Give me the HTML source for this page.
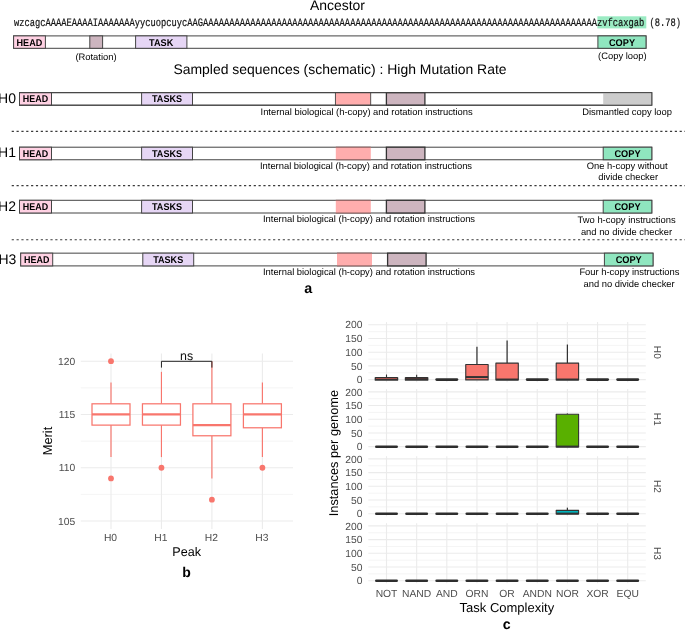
<!DOCTYPE html>
<html><head><meta charset="utf-8"><title>Figure</title>
<style>
html,body{margin:0;padding:0;background:#fff;}
body{width:685px;height:630px;overflow:hidden;font-family:"Liberation Sans",sans-serif;}
svg{display:block;}
svg text{font-family:"Liberation Sans",sans-serif;text-rendering:geometricPrecision;}
</style></head>
<body>
<div style="will-change:transform;width:685px;height:630px">
<svg width="685" height="630" viewBox="0 0 685 630">
<rect x="0" y="0" width="685" height="630" fill="#ffffff"/>
<text x="337.5" y="9.6" font-size="13.95" text-anchor="middle" font-weight="normal" fill="#000" >Ancestor</text>
<rect x="597.40" y="16.30" width="48.90" height="12.10" fill="#9BEBC3" stroke="none" stroke-width="1" />
<text x="14.0" y="25.5" stroke="#111" stroke-width="0.2" style="font-family:'Liberation Mono',monospace" font-size="11.4" textLength="667.0" lengthAdjust="spacingAndGlyphs" fill="#111">wzcagcAAAAEAAAAIAAAAAAAyycuopcuycAAGAAAAAAAAAAAAAAAAAAAAAAAAAAAAAAAAAAAAAAAAAAAAAAAAAAAAAAAAAAAAAAAAAAAAAAAAAAAzvfcaxgab (8.78)</text>
<rect x="13.60" y="35.90" width="632.40" height="12.40" fill="#fff" stroke="#444" stroke-width="1" />
<rect x="13.60" y="35.90" width="31.80" height="12.40" fill="#FFD1E3" stroke="#444" stroke-width="1" />
<rect x="89.80" y="35.90" width="12.80" height="12.40" fill="#CDB5BF" stroke="#444" stroke-width="1" />
<rect x="135.60" y="35.90" width="51.30" height="12.40" fill="#E6D6F5" stroke="#444" stroke-width="1" />
<rect x="597.90" y="35.90" width="48.10" height="12.40" fill="#8FE6BF" stroke="#444" stroke-width="1" />
<text x="16.55" y="45.9" font-size="9.8" font-weight="bold" textLength="25.7" lengthAdjust="spacingAndGlyphs" fill="#000">HEAD</text>
<text x="149.10" y="45.9" font-size="9.8" font-weight="bold" textLength="24.2" lengthAdjust="spacingAndGlyphs" fill="#000">TASK</text>
<text x="608.95" y="45.9" font-size="9.8" font-weight="bold" textLength="26.1" lengthAdjust="spacingAndGlyphs" fill="#000">COPY</text>
<text x="96" y="59.5" font-size="9.38" text-anchor="middle" font-weight="normal" fill="#000" >(Rotation)</text>
<text x="622.3" y="58.7" font-size="9.38" text-anchor="middle" font-weight="normal" fill="#000" >(Copy loop)</text>
<text x="340" y="73.9" font-size="13.95" text-anchor="middle" font-weight="normal" fill="#000" >Sampled sequences (schematic) : High Mutation Rate</text>
<text x="16.0" y="103.4" font-size="14" text-anchor="end" font-weight="normal" fill="#000" >H0</text>
<rect x="19.50" y="92.65" width="632.30" height="12.55" fill="#fff" stroke="#444" stroke-width="1" />
<rect x="19.50" y="92.65" width="32.00" height="12.55" fill="#FFD1E3" stroke="#444" stroke-width="1" />
<rect x="141.60" y="92.65" width="50.90" height="12.55" fill="#E6D6F5" stroke="#444" stroke-width="1" />
<rect x="335.40" y="92.65" width="35.30" height="12.55" fill="#FFADAD" stroke="#444" stroke-width="0.9" />
<rect x="386.40" y="92.65" width="38.50" height="12.55" fill="#CDB5BF" stroke="#333" stroke-width="1.3" />
<rect x="603.20" y="92.65" width="48.60" height="12.55" fill="#CCCCCC" stroke="none" stroke-width="1" />
<rect x="19.50" y="92.65" width="632.30" height="12.55" fill="none" stroke="#444" stroke-width="1" />
<text x="22.85" y="102.25" font-size="9.8" font-weight="bold" textLength="25.3" lengthAdjust="spacingAndGlyphs" fill="#000">HEAD</text>
<text x="152.00" y="102.25" font-size="9.8" font-weight="bold" textLength="30.0" lengthAdjust="spacingAndGlyphs" fill="#000">TASKS</text>
<text x="366.6" y="114.60000000000001" font-size="9.38" text-anchor="middle" font-weight="normal" fill="#000" >Internal biological (h-copy) and rotation instructions</text>
<text x="16.0" y="157.4" font-size="14" text-anchor="end" font-weight="normal" fill="#000" >H1</text>
<rect x="19.50" y="147.20" width="632.30" height="12.55" fill="#fff" stroke="#444" stroke-width="1" />
<rect x="19.50" y="147.20" width="32.00" height="12.55" fill="#FFD1E3" stroke="#444" stroke-width="1" />
<rect x="141.60" y="147.20" width="50.90" height="12.55" fill="#E6D6F5" stroke="#444" stroke-width="1" />
<rect x="335.80" y="147.20" width="35.00" height="12.55" fill="#FFADAD" stroke="none" stroke-width="1" />
<line x1="335.80" y1="147.20" x2="370.80" y2="147.20" stroke="#8a5c5c" stroke-width="1" />
<line x1="335.80" y1="159.75" x2="370.80" y2="159.75" stroke="#8a5c5c" stroke-width="1" />
<rect x="386.40" y="147.20" width="38.50" height="12.55" fill="#CDB5BF" stroke="#333" stroke-width="1.3" />
<rect x="603.20" y="147.20" width="48.60" height="12.55" fill="#8FE6BF" stroke="#444" stroke-width="1" />
<text x="614.45" y="156.8" font-size="9.8" font-weight="bold" textLength="26.1" lengthAdjust="spacingAndGlyphs" fill="#000">COPY</text>
<text x="22.85" y="156.8" font-size="9.8" font-weight="bold" textLength="25.3" lengthAdjust="spacingAndGlyphs" fill="#000">HEAD</text>
<text x="152.00" y="156.8" font-size="9.8" font-weight="bold" textLength="30.0" lengthAdjust="spacingAndGlyphs" fill="#000">TASKS</text>
<text x="366.0" y="169.15" font-size="9.38" text-anchor="middle" font-weight="normal" fill="#000" >Internal biological (h-copy) and rotation instructions</text>
<text x="16.0" y="210.6" font-size="14" text-anchor="end" font-weight="normal" fill="#000" >H2</text>
<rect x="19.50" y="200.30" width="632.30" height="12.70" fill="#fff" stroke="#444" stroke-width="1" />
<rect x="19.50" y="200.30" width="32.00" height="12.70" fill="#FFD1E3" stroke="#444" stroke-width="1" />
<rect x="141.60" y="200.30" width="50.90" height="12.70" fill="#E6D6F5" stroke="#444" stroke-width="1" />
<rect x="335.80" y="200.30" width="35.00" height="12.70" fill="#FFADAD" stroke="none" stroke-width="1" />
<line x1="335.80" y1="200.30" x2="370.80" y2="200.30" stroke="#8a5c5c" stroke-width="1" />
<line x1="335.80" y1="213.00" x2="370.80" y2="213.00" stroke="#8a5c5c" stroke-width="1" />
<rect x="386.40" y="200.30" width="38.50" height="12.70" fill="#CDB5BF" stroke="#333" stroke-width="1.3" />
<rect x="603.20" y="200.30" width="48.60" height="12.70" fill="#8FE6BF" stroke="#444" stroke-width="1" />
<text x="614.45" y="210.05" font-size="9.8" font-weight="bold" textLength="26.1" lengthAdjust="spacingAndGlyphs" fill="#000">COPY</text>
<text x="22.85" y="210.05" font-size="9.8" font-weight="bold" textLength="25.3" lengthAdjust="spacingAndGlyphs" fill="#000">HEAD</text>
<text x="152.00" y="210.05" font-size="9.8" font-weight="bold" textLength="30.0" lengthAdjust="spacingAndGlyphs" fill="#000">TASKS</text>
<text x="369.0" y="222.4" font-size="9.38" text-anchor="middle" font-weight="normal" fill="#000" >Internal biological (h-copy) and rotation instructions</text>
<text x="16.36" y="263.8" font-size="14" text-anchor="end" font-weight="normal" fill="#000" >H3</text>
<rect x="20.70" y="253.15" width="632.30" height="12.75" fill="#fff" stroke="#444" stroke-width="1" />
<rect x="20.70" y="253.15" width="32.00" height="12.75" fill="#FFD1E3" stroke="#444" stroke-width="1" />
<rect x="142.80" y="253.15" width="50.90" height="12.75" fill="#E6D6F5" stroke="#444" stroke-width="1" />
<rect x="337.00" y="253.15" width="35.00" height="12.75" fill="#FFADAD" stroke="none" stroke-width="1" />
<line x1="337.00" y1="253.15" x2="372.00" y2="253.15" stroke="#8a5c5c" stroke-width="1" />
<line x1="337.00" y1="265.90" x2="372.00" y2="265.90" stroke="#8a5c5c" stroke-width="1" />
<rect x="387.60" y="253.15" width="38.50" height="12.75" fill="#CDB5BF" stroke="#333" stroke-width="1.3" />
<rect x="604.40" y="253.15" width="48.60" height="12.75" fill="#8FE6BF" stroke="#444" stroke-width="1" />
<text x="615.65" y="262.95" font-size="9.8" font-weight="bold" textLength="26.1" lengthAdjust="spacingAndGlyphs" fill="#000">COPY</text>
<text x="24.05" y="262.95" font-size="9.8" font-weight="bold" textLength="25.3" lengthAdjust="spacingAndGlyphs" fill="#000">HEAD</text>
<text x="153.20" y="262.95" font-size="9.8" font-weight="bold" textLength="30.0" lengthAdjust="spacingAndGlyphs" fill="#000">TASKS</text>
<text x="369.0" y="275.29999999999995" font-size="9.38" text-anchor="middle" font-weight="normal" fill="#000" >Internal biological (h-copy) and rotation instructions</text>
<text x="627.1" y="115.0" font-size="9.38" text-anchor="middle" font-weight="normal" fill="#000" >Dismantled copy loop</text>
<text x="627.2" y="168.8" font-size="9.38" text-anchor="middle" font-weight="normal" fill="#000" >One h-copy without</text>
<text x="628.2" y="180.4" font-size="9.38" text-anchor="middle" font-weight="normal" fill="#000" >divide checker</text>
<text x="626.6" y="222.9" font-size="9.38" text-anchor="middle" font-weight="normal" fill="#000" >Two h-copy instructions</text>
<text x="626.5" y="234.7" font-size="9.38" text-anchor="middle" font-weight="normal" fill="#000" >and no divide checker</text>
<text x="629.4" y="275.4" font-size="9.38" text-anchor="middle" font-weight="normal" fill="#000" >Four h-copy instructions</text>
<text x="629.1" y="286.9" font-size="9.38" text-anchor="middle" font-weight="normal" fill="#000" >and no divide checker</text>
<line x1="11.70" y1="131.40" x2="685.00" y2="131.40" stroke="#3a3a3a" stroke-width="1.15" stroke-dasharray="2.2 2.64"/>
<line x1="11.70" y1="185.60" x2="685.00" y2="185.60" stroke="#3a3a3a" stroke-width="1.15" stroke-dasharray="2.2 2.64"/>
<line x1="11.70" y1="239.70" x2="685.00" y2="239.70" stroke="#3a3a3a" stroke-width="1.15" stroke-dasharray="2.2 2.64"/>
<text x="308.3" y="293.0" font-size="14.3" text-anchor="middle" font-weight="bold" fill="#000" >a</text>
<line x1="80.80" y1="494.36" x2="293.00" y2="494.36" stroke="#EBEBEB" stroke-width="0.55" />
<line x1="80.80" y1="441.10" x2="293.00" y2="441.10" stroke="#EBEBEB" stroke-width="0.55" />
<line x1="80.80" y1="387.83" x2="293.00" y2="387.83" stroke="#EBEBEB" stroke-width="0.55" />
<line x1="80.80" y1="521.00" x2="293.00" y2="521.00" stroke="#EBEBEB" stroke-width="1.1" />
<text x="75.2" y="524.595" font-size="10.3" text-anchor="end" font-weight="normal" fill="#4D4D4D" >105</text>
<line x1="80.80" y1="467.73" x2="293.00" y2="467.73" stroke="#EBEBEB" stroke-width="1.1" />
<text x="75.2" y="471.33000000000004" font-size="10.3" text-anchor="end" font-weight="normal" fill="#4D4D4D" >110</text>
<line x1="80.80" y1="414.46" x2="293.00" y2="414.46" stroke="#EBEBEB" stroke-width="1.1" />
<text x="75.2" y="418.065" font-size="10.3" text-anchor="end" font-weight="normal" fill="#4D4D4D" >115</text>
<line x1="80.80" y1="361.20" x2="293.00" y2="361.20" stroke="#EBEBEB" stroke-width="1.1" />
<text x="75.2" y="364.8" font-size="10.3" text-anchor="end" font-weight="normal" fill="#4D4D4D" >120</text>
<line x1="111.00" y1="353.60" x2="111.00" y2="529.00" stroke="#EBEBEB" stroke-width="1.1" />
<text x="110.5" y="540.9" font-size="10.3" text-anchor="middle" font-weight="normal" fill="#4D4D4D" >H0</text>
<line x1="161.45" y1="353.60" x2="161.45" y2="529.00" stroke="#EBEBEB" stroke-width="1.1" />
<text x="160.95" y="540.9" font-size="10.3" text-anchor="middle" font-weight="normal" fill="#4D4D4D" >H1</text>
<line x1="211.90" y1="353.60" x2="211.90" y2="529.00" stroke="#EBEBEB" stroke-width="1.1" />
<text x="211.4" y="540.9" font-size="10.3" text-anchor="middle" font-weight="normal" fill="#4D4D4D" >H2</text>
<line x1="262.40" y1="353.60" x2="262.40" y2="529.00" stroke="#EBEBEB" stroke-width="1.1" />
<text x="261.9" y="540.9" font-size="10.3" text-anchor="middle" font-weight="normal" fill="#4D4D4D" >H3</text>
<line x1="111.00" y1="382.51" x2="111.00" y2="403.81" stroke="#F8766D" stroke-width="1.15" />
<line x1="111.00" y1="425.12" x2="111.00" y2="457.08" stroke="#F8766D" stroke-width="1.15" />
<rect x="92.00" y="403.81" width="38.00" height="21.31" fill="#fff" stroke="#F8766D" stroke-width="1.25" />
<line x1="92.00" y1="414.46" x2="130.00" y2="414.46" stroke="#F8766D" stroke-width="2.3" />
<circle cx="111.0" cy="361.20" r="2.9" fill="#F8766D"/>
<circle cx="111.0" cy="478.38" r="2.9" fill="#F8766D"/>
<line x1="161.45" y1="371.85" x2="161.45" y2="403.81" stroke="#F8766D" stroke-width="1.15" />
<line x1="161.45" y1="425.12" x2="161.45" y2="457.08" stroke="#F8766D" stroke-width="1.15" />
<rect x="142.45" y="403.81" width="38.00" height="21.31" fill="#fff" stroke="#F8766D" stroke-width="1.25" />
<line x1="142.45" y1="414.46" x2="180.45" y2="414.46" stroke="#F8766D" stroke-width="2.3" />
<circle cx="161.45" cy="467.73" r="2.9" fill="#F8766D"/>
<line x1="211.90" y1="361.20" x2="211.90" y2="403.81" stroke="#F8766D" stroke-width="1.15" />
<line x1="211.90" y1="435.77" x2="211.90" y2="478.38" stroke="#F8766D" stroke-width="1.15" />
<rect x="192.90" y="403.81" width="38.00" height="31.96" fill="#fff" stroke="#F8766D" stroke-width="1.25" />
<line x1="192.90" y1="425.12" x2="230.90" y2="425.12" stroke="#F8766D" stroke-width="2.3" />
<circle cx="211.9" cy="499.69" r="2.9" fill="#F8766D"/>
<line x1="262.40" y1="382.51" x2="262.40" y2="403.81" stroke="#F8766D" stroke-width="1.15" />
<line x1="262.40" y1="427.78" x2="262.40" y2="457.08" stroke="#F8766D" stroke-width="1.15" />
<rect x="243.40" y="403.81" width="38.00" height="23.97" fill="#fff" stroke="#F8766D" stroke-width="1.25" />
<line x1="243.40" y1="414.46" x2="281.40" y2="414.46" stroke="#F8766D" stroke-width="2.3" />
<circle cx="262.4" cy="467.73" r="2.9" fill="#F8766D"/>
<path d="M161.45 367.6 V361.3 H211.9 V367.6" fill="none" stroke="#222" stroke-width="1"/>
<text x="186.6" y="359.6" font-size="12.4" text-anchor="middle" font-weight="normal" fill="#111" >ns</text>
<text transform="translate(52.0,441) rotate(-90)" font-size="12.9" text-anchor="middle" fill="#000">Merit</text>
<text x="186.6" y="556" font-size="12.6" text-anchor="middle" font-weight="normal" fill="#000" >Peak</text>
<text x="186.6" y="577.0" font-size="14.0" text-anchor="middle" font-weight="bold" fill="#000" >b</text>
<line x1="368.30" y1="372.75" x2="645.80" y2="372.75" stroke="#EBEBEB" stroke-width="0.55" />
<line x1="368.30" y1="359.05" x2="645.80" y2="359.05" stroke="#EBEBEB" stroke-width="0.55" />
<line x1="368.30" y1="345.35" x2="645.80" y2="345.35" stroke="#EBEBEB" stroke-width="0.55" />
<line x1="368.30" y1="331.65" x2="645.80" y2="331.65" stroke="#EBEBEB" stroke-width="0.55" />
<line x1="368.30" y1="379.60" x2="645.80" y2="379.60" stroke="#EBEBEB" stroke-width="1.1" />
<text x="362.4" y="383.25" font-size="10.3" text-anchor="end" font-weight="normal" fill="#4D4D4D" >0</text>
<line x1="368.30" y1="365.90" x2="645.80" y2="365.90" stroke="#EBEBEB" stroke-width="1.1" />
<text x="362.4" y="369.55" font-size="10.3" text-anchor="end" font-weight="normal" fill="#4D4D4D" >50</text>
<line x1="368.30" y1="352.20" x2="645.80" y2="352.20" stroke="#EBEBEB" stroke-width="1.1" />
<text x="362.4" y="355.85" font-size="10.3" text-anchor="end" font-weight="normal" fill="#4D4D4D" >100</text>
<line x1="368.30" y1="338.50" x2="645.80" y2="338.50" stroke="#EBEBEB" stroke-width="1.1" />
<text x="362.4" y="342.15" font-size="10.3" text-anchor="end" font-weight="normal" fill="#4D4D4D" >150</text>
<line x1="368.30" y1="324.80" x2="645.80" y2="324.80" stroke="#EBEBEB" stroke-width="1.1" />
<text x="362.4" y="328.45" font-size="10.3" text-anchor="end" font-weight="normal" fill="#4D4D4D" >200</text>
<line x1="386.50" y1="322.06" x2="386.50" y2="382.20" stroke="#EBEBEB" stroke-width="1.1" />
<line x1="416.65" y1="322.06" x2="416.65" y2="382.20" stroke="#EBEBEB" stroke-width="1.1" />
<line x1="446.80" y1="322.06" x2="446.80" y2="382.20" stroke="#EBEBEB" stroke-width="1.1" />
<line x1="476.95" y1="322.06" x2="476.95" y2="382.20" stroke="#EBEBEB" stroke-width="1.1" />
<line x1="507.10" y1="322.06" x2="507.10" y2="382.20" stroke="#EBEBEB" stroke-width="1.1" />
<line x1="537.25" y1="322.06" x2="537.25" y2="382.20" stroke="#EBEBEB" stroke-width="1.1" />
<line x1="567.40" y1="322.06" x2="567.40" y2="382.20" stroke="#EBEBEB" stroke-width="1.1" />
<line x1="597.55" y1="322.06" x2="597.55" y2="382.20" stroke="#EBEBEB" stroke-width="1.1" />
<line x1="627.70" y1="322.06" x2="627.70" y2="382.20" stroke="#EBEBEB" stroke-width="1.1" />
<line x1="386.50" y1="374.50" x2="386.50" y2="377.50" stroke="#333" stroke-width="1.1" />
<rect x="374.65" y="376.90" width="23.60" height="3.95" fill="#333" stroke="none" stroke-width="1" rx="0.9"/>
<rect x="375.90" y="378.30" width="21.10" height="0.70" fill="#D45F56" stroke="none" stroke-width="1" />
<line x1="416.65" y1="374.80" x2="416.65" y2="377.50" stroke="#333" stroke-width="1.1" />
<rect x="404.80" y="376.90" width="23.60" height="3.95" fill="#333" stroke="none" stroke-width="1" rx="0.9"/>
<rect x="406.05" y="378.30" width="21.10" height="0.70" fill="#553634" stroke="none" stroke-width="1" />
<line x1="436.60" y1="379.60" x2="457.00" y2="379.60" stroke="#2e2e2e" stroke-width="2.55" stroke-linecap="round"/>
<line x1="476.95" y1="346.72" x2="476.95" y2="364.53" stroke="#333" stroke-width="1.25" />
<rect x="465.75" y="364.53" width="22.40" height="15.37" fill="#F8766D" stroke="#333" stroke-width="1.1" stroke-linejoin="round"/>
<line x1="465.75" y1="377.06" x2="488.15" y2="377.06" stroke="#333" stroke-width="2.0" />
<line x1="507.10" y1="340.42" x2="507.10" y2="363.16" stroke="#333" stroke-width="1.25" />
<rect x="495.90" y="363.16" width="22.40" height="16.74" fill="#F8766D" stroke="#333" stroke-width="1.1" stroke-linejoin="round"/>
<line x1="495.90" y1="379.53" x2="518.30" y2="379.53" stroke="#333" stroke-width="2.0" />
<line x1="527.05" y1="379.60" x2="547.45" y2="379.60" stroke="#2e2e2e" stroke-width="2.55" stroke-linecap="round"/>
<line x1="567.40" y1="344.53" x2="567.40" y2="363.16" stroke="#333" stroke-width="1.25" />
<rect x="556.20" y="363.16" width="22.40" height="16.74" fill="#F8766D" stroke="#333" stroke-width="1.1" stroke-linejoin="round"/>
<line x1="556.20" y1="379.53" x2="578.60" y2="379.53" stroke="#333" stroke-width="2.0" />
<line x1="587.35" y1="379.60" x2="607.75" y2="379.60" stroke="#2e2e2e" stroke-width="2.55" stroke-linecap="round"/>
<line x1="617.50" y1="379.60" x2="637.90" y2="379.60" stroke="#2e2e2e" stroke-width="2.55" stroke-linecap="round"/>
<text transform="translate(654.3,352.3) rotate(90)" font-size="10.1" text-anchor="middle" fill="#4D4D4D">H0</text>
<line x1="368.30" y1="439.80" x2="645.80" y2="439.80" stroke="#EBEBEB" stroke-width="0.55" />
<line x1="368.30" y1="426.10" x2="645.80" y2="426.10" stroke="#EBEBEB" stroke-width="0.55" />
<line x1="368.30" y1="412.40" x2="645.80" y2="412.40" stroke="#EBEBEB" stroke-width="0.55" />
<line x1="368.30" y1="398.70" x2="645.80" y2="398.70" stroke="#EBEBEB" stroke-width="0.55" />
<line x1="368.30" y1="446.65" x2="645.80" y2="446.65" stroke="#EBEBEB" stroke-width="1.1" />
<text x="362.4" y="450.29999999999995" font-size="10.3" text-anchor="end" font-weight="normal" fill="#4D4D4D" >0</text>
<line x1="368.30" y1="432.95" x2="645.80" y2="432.95" stroke="#EBEBEB" stroke-width="1.1" />
<text x="362.4" y="436.59999999999997" font-size="10.3" text-anchor="end" font-weight="normal" fill="#4D4D4D" >50</text>
<line x1="368.30" y1="419.25" x2="645.80" y2="419.25" stroke="#EBEBEB" stroke-width="1.1" />
<text x="362.4" y="422.9" font-size="10.3" text-anchor="end" font-weight="normal" fill="#4D4D4D" >100</text>
<line x1="368.30" y1="405.55" x2="645.80" y2="405.55" stroke="#EBEBEB" stroke-width="1.1" />
<text x="362.4" y="409.19999999999993" font-size="10.3" text-anchor="end" font-weight="normal" fill="#4D4D4D" >150</text>
<line x1="368.30" y1="391.85" x2="645.80" y2="391.85" stroke="#EBEBEB" stroke-width="1.1" />
<text x="362.4" y="395.49999999999994" font-size="10.3" text-anchor="end" font-weight="normal" fill="#4D4D4D" >200</text>
<line x1="386.50" y1="389.11" x2="386.50" y2="449.25" stroke="#EBEBEB" stroke-width="1.1" />
<line x1="416.65" y1="389.11" x2="416.65" y2="449.25" stroke="#EBEBEB" stroke-width="1.1" />
<line x1="446.80" y1="389.11" x2="446.80" y2="449.25" stroke="#EBEBEB" stroke-width="1.1" />
<line x1="476.95" y1="389.11" x2="476.95" y2="449.25" stroke="#EBEBEB" stroke-width="1.1" />
<line x1="507.10" y1="389.11" x2="507.10" y2="449.25" stroke="#EBEBEB" stroke-width="1.1" />
<line x1="537.25" y1="389.11" x2="537.25" y2="449.25" stroke="#EBEBEB" stroke-width="1.1" />
<line x1="567.40" y1="389.11" x2="567.40" y2="449.25" stroke="#EBEBEB" stroke-width="1.1" />
<line x1="597.55" y1="389.11" x2="597.55" y2="449.25" stroke="#EBEBEB" stroke-width="1.1" />
<line x1="627.70" y1="389.11" x2="627.70" y2="449.25" stroke="#EBEBEB" stroke-width="1.1" />
<line x1="376.30" y1="446.65" x2="396.70" y2="446.65" stroke="#2e2e2e" stroke-width="2.55" stroke-linecap="round"/>
<line x1="406.45" y1="446.65" x2="426.85" y2="446.65" stroke="#2e2e2e" stroke-width="2.55" stroke-linecap="round"/>
<line x1="436.60" y1="446.65" x2="457.00" y2="446.65" stroke="#2e2e2e" stroke-width="2.55" stroke-linecap="round"/>
<line x1="466.75" y1="446.65" x2="487.15" y2="446.65" stroke="#2e2e2e" stroke-width="2.55" stroke-linecap="round"/>
<line x1="496.90" y1="446.65" x2="517.30" y2="446.65" stroke="#2e2e2e" stroke-width="2.55" stroke-linecap="round"/>
<line x1="527.05" y1="446.65" x2="547.45" y2="446.65" stroke="#2e2e2e" stroke-width="2.55" stroke-linecap="round"/>
<line x1="567.40" y1="413.50" x2="567.40" y2="414.32" stroke="#333" stroke-width="1.25" />
<rect x="556.20" y="414.32" width="22.40" height="32.63" fill="#59B000" stroke="#333" stroke-width="1.1" stroke-linejoin="round"/>
<line x1="556.20" y1="446.58" x2="578.60" y2="446.58" stroke="#333" stroke-width="2.0" />
<line x1="587.35" y1="446.65" x2="607.75" y2="446.65" stroke="#2e2e2e" stroke-width="2.55" stroke-linecap="round"/>
<line x1="617.50" y1="446.65" x2="637.90" y2="446.65" stroke="#2e2e2e" stroke-width="2.55" stroke-linecap="round"/>
<text transform="translate(654.3,419.3) rotate(90)" font-size="10.1" text-anchor="middle" fill="#4D4D4D">H1</text>
<line x1="368.30" y1="506.85" x2="645.80" y2="506.85" stroke="#EBEBEB" stroke-width="0.55" />
<line x1="368.30" y1="493.15" x2="645.80" y2="493.15" stroke="#EBEBEB" stroke-width="0.55" />
<line x1="368.30" y1="479.45" x2="645.80" y2="479.45" stroke="#EBEBEB" stroke-width="0.55" />
<line x1="368.30" y1="465.75" x2="645.80" y2="465.75" stroke="#EBEBEB" stroke-width="0.55" />
<line x1="368.30" y1="513.70" x2="645.80" y2="513.70" stroke="#EBEBEB" stroke-width="1.1" />
<text x="362.4" y="517.35" font-size="10.3" text-anchor="end" font-weight="normal" fill="#4D4D4D" >0</text>
<line x1="368.30" y1="500.00" x2="645.80" y2="500.00" stroke="#EBEBEB" stroke-width="1.1" />
<text x="362.4" y="503.65000000000003" font-size="10.3" text-anchor="end" font-weight="normal" fill="#4D4D4D" >50</text>
<line x1="368.30" y1="486.30" x2="645.80" y2="486.30" stroke="#EBEBEB" stroke-width="1.1" />
<text x="362.4" y="489.95000000000005" font-size="10.3" text-anchor="end" font-weight="normal" fill="#4D4D4D" >100</text>
<line x1="368.30" y1="472.60" x2="645.80" y2="472.60" stroke="#EBEBEB" stroke-width="1.1" />
<text x="362.4" y="476.25" font-size="10.3" text-anchor="end" font-weight="normal" fill="#4D4D4D" >150</text>
<line x1="368.30" y1="458.90" x2="645.80" y2="458.90" stroke="#EBEBEB" stroke-width="1.1" />
<text x="362.4" y="462.55" font-size="10.3" text-anchor="end" font-weight="normal" fill="#4D4D4D" >200</text>
<line x1="386.50" y1="456.16" x2="386.50" y2="516.30" stroke="#EBEBEB" stroke-width="1.1" />
<line x1="416.65" y1="456.16" x2="416.65" y2="516.30" stroke="#EBEBEB" stroke-width="1.1" />
<line x1="446.80" y1="456.16" x2="446.80" y2="516.30" stroke="#EBEBEB" stroke-width="1.1" />
<line x1="476.95" y1="456.16" x2="476.95" y2="516.30" stroke="#EBEBEB" stroke-width="1.1" />
<line x1="507.10" y1="456.16" x2="507.10" y2="516.30" stroke="#EBEBEB" stroke-width="1.1" />
<line x1="537.25" y1="456.16" x2="537.25" y2="516.30" stroke="#EBEBEB" stroke-width="1.1" />
<line x1="567.40" y1="456.16" x2="567.40" y2="516.30" stroke="#EBEBEB" stroke-width="1.1" />
<line x1="597.55" y1="456.16" x2="597.55" y2="516.30" stroke="#EBEBEB" stroke-width="1.1" />
<line x1="627.70" y1="456.16" x2="627.70" y2="516.30" stroke="#EBEBEB" stroke-width="1.1" />
<line x1="376.30" y1="513.70" x2="396.70" y2="513.70" stroke="#2e2e2e" stroke-width="2.55" stroke-linecap="round"/>
<line x1="406.45" y1="513.70" x2="426.85" y2="513.70" stroke="#2e2e2e" stroke-width="2.55" stroke-linecap="round"/>
<line x1="436.60" y1="513.70" x2="457.00" y2="513.70" stroke="#2e2e2e" stroke-width="2.55" stroke-linecap="round"/>
<line x1="466.75" y1="513.70" x2="487.15" y2="513.70" stroke="#2e2e2e" stroke-width="2.55" stroke-linecap="round"/>
<line x1="496.90" y1="513.70" x2="517.30" y2="513.70" stroke="#2e2e2e" stroke-width="2.55" stroke-linecap="round"/>
<line x1="527.05" y1="513.70" x2="547.45" y2="513.70" stroke="#2e2e2e" stroke-width="2.55" stroke-linecap="round"/>
<line x1="567.40" y1="507.67" x2="567.40" y2="510.41" stroke="#333" stroke-width="1.25" />
<rect x="556.20" y="510.41" width="22.40" height="3.59" fill="#00B3BC" stroke="#333" stroke-width="1.1" stroke-linejoin="round"/>
<line x1="556.20" y1="513.63" x2="578.60" y2="513.63" stroke="#333" stroke-width="2.0" />
<line x1="587.35" y1="513.70" x2="607.75" y2="513.70" stroke="#2e2e2e" stroke-width="2.55" stroke-linecap="round"/>
<line x1="617.50" y1="513.70" x2="637.90" y2="513.70" stroke="#2e2e2e" stroke-width="2.55" stroke-linecap="round"/>
<text transform="translate(654.3,486.4) rotate(90)" font-size="10.1" text-anchor="middle" fill="#4D4D4D">H2</text>
<line x1="368.30" y1="573.85" x2="645.80" y2="573.85" stroke="#EBEBEB" stroke-width="0.55" />
<line x1="368.30" y1="560.15" x2="645.80" y2="560.15" stroke="#EBEBEB" stroke-width="0.55" />
<line x1="368.30" y1="546.45" x2="645.80" y2="546.45" stroke="#EBEBEB" stroke-width="0.55" />
<line x1="368.30" y1="532.75" x2="645.80" y2="532.75" stroke="#EBEBEB" stroke-width="0.55" />
<line x1="368.30" y1="580.70" x2="645.80" y2="580.70" stroke="#EBEBEB" stroke-width="1.1" />
<text x="362.4" y="584.35" font-size="10.3" text-anchor="end" font-weight="normal" fill="#4D4D4D" >0</text>
<line x1="368.30" y1="567.00" x2="645.80" y2="567.00" stroke="#EBEBEB" stroke-width="1.1" />
<text x="362.4" y="570.65" font-size="10.3" text-anchor="end" font-weight="normal" fill="#4D4D4D" >50</text>
<line x1="368.30" y1="553.30" x2="645.80" y2="553.30" stroke="#EBEBEB" stroke-width="1.1" />
<text x="362.4" y="556.95" font-size="10.3" text-anchor="end" font-weight="normal" fill="#4D4D4D" >100</text>
<line x1="368.30" y1="539.60" x2="645.80" y2="539.60" stroke="#EBEBEB" stroke-width="1.1" />
<text x="362.4" y="543.25" font-size="10.3" text-anchor="end" font-weight="normal" fill="#4D4D4D" >150</text>
<line x1="368.30" y1="525.90" x2="645.80" y2="525.90" stroke="#EBEBEB" stroke-width="1.1" />
<text x="362.4" y="529.5500000000001" font-size="10.3" text-anchor="end" font-weight="normal" fill="#4D4D4D" >200</text>
<line x1="386.50" y1="523.16" x2="386.50" y2="583.30" stroke="#EBEBEB" stroke-width="1.1" />
<line x1="416.65" y1="523.16" x2="416.65" y2="583.30" stroke="#EBEBEB" stroke-width="1.1" />
<line x1="446.80" y1="523.16" x2="446.80" y2="583.30" stroke="#EBEBEB" stroke-width="1.1" />
<line x1="476.95" y1="523.16" x2="476.95" y2="583.30" stroke="#EBEBEB" stroke-width="1.1" />
<line x1="507.10" y1="523.16" x2="507.10" y2="583.30" stroke="#EBEBEB" stroke-width="1.1" />
<line x1="537.25" y1="523.16" x2="537.25" y2="583.30" stroke="#EBEBEB" stroke-width="1.1" />
<line x1="567.40" y1="523.16" x2="567.40" y2="583.30" stroke="#EBEBEB" stroke-width="1.1" />
<line x1="597.55" y1="523.16" x2="597.55" y2="583.30" stroke="#EBEBEB" stroke-width="1.1" />
<line x1="627.70" y1="523.16" x2="627.70" y2="583.30" stroke="#EBEBEB" stroke-width="1.1" />
<line x1="376.30" y1="580.70" x2="396.70" y2="580.70" stroke="#2e2e2e" stroke-width="2.55" stroke-linecap="round"/>
<line x1="406.45" y1="580.70" x2="426.85" y2="580.70" stroke="#2e2e2e" stroke-width="2.55" stroke-linecap="round"/>
<line x1="436.60" y1="580.70" x2="457.00" y2="580.70" stroke="#2e2e2e" stroke-width="2.55" stroke-linecap="round"/>
<line x1="466.75" y1="580.70" x2="487.15" y2="580.70" stroke="#2e2e2e" stroke-width="2.55" stroke-linecap="round"/>
<line x1="496.90" y1="580.70" x2="517.30" y2="580.70" stroke="#2e2e2e" stroke-width="2.55" stroke-linecap="round"/>
<line x1="527.05" y1="580.70" x2="547.45" y2="580.70" stroke="#2e2e2e" stroke-width="2.55" stroke-linecap="round"/>
<line x1="557.20" y1="580.70" x2="577.60" y2="580.70" stroke="#2e2e2e" stroke-width="2.55" stroke-linecap="round"/>
<line x1="587.35" y1="580.70" x2="607.75" y2="580.70" stroke="#2e2e2e" stroke-width="2.55" stroke-linecap="round"/>
<line x1="617.50" y1="580.70" x2="637.90" y2="580.70" stroke="#2e2e2e" stroke-width="2.55" stroke-linecap="round"/>
<text transform="translate(654.3,553.4) rotate(90)" font-size="10.1" text-anchor="middle" fill="#4D4D4D">H3</text>
<text x="386.5" y="596.8" font-size="10.3" text-anchor="middle" font-weight="normal" fill="#4D4D4D" >NOT</text>
<text x="416.65" y="596.8" font-size="10.3" text-anchor="middle" font-weight="normal" fill="#4D4D4D" >NAND</text>
<text x="446.8" y="596.8" font-size="10.3" text-anchor="middle" font-weight="normal" fill="#4D4D4D" >AND</text>
<text x="476.95" y="596.8" font-size="10.3" text-anchor="middle" font-weight="normal" fill="#4D4D4D" >ORN</text>
<text x="507.1" y="596.8" font-size="10.3" text-anchor="middle" font-weight="normal" fill="#4D4D4D" >OR</text>
<text x="537.25" y="596.8" font-size="10.3" text-anchor="middle" font-weight="normal" fill="#4D4D4D" >ANDN</text>
<text x="567.4" y="596.8" font-size="10.3" text-anchor="middle" font-weight="normal" fill="#4D4D4D" >NOR</text>
<text x="597.55" y="596.8" font-size="10.3" text-anchor="middle" font-weight="normal" fill="#4D4D4D" >XOR</text>
<text x="627.7" y="596.8" font-size="10.3" text-anchor="middle" font-weight="normal" fill="#4D4D4D" >EQU</text>
<text x="506.9" y="611.6" font-size="13.0" text-anchor="middle" font-weight="normal" fill="#000" >Task Complexity</text>
<text transform="translate(338.2,453.1) rotate(-90)" font-size="12.75" text-anchor="middle" fill="#000">Instances per genome</text>
<text x="506.6" y="629.4" font-size="14.2" text-anchor="middle" font-weight="bold" fill="#000" >c</text>
</svg>
</div>
</body></html>
